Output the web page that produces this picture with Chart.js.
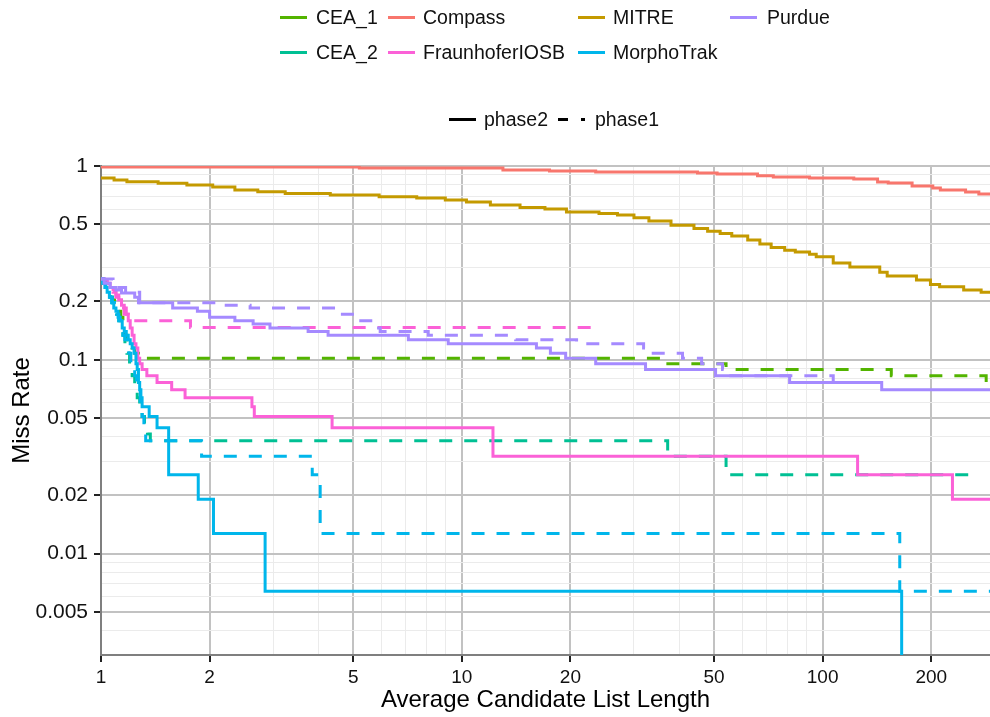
<!DOCTYPE html>
<html>
<head>
<meta charset="utf-8">
<script src="https://cdn.jsdelivr.net/npm/chart.js@4/dist/chart.umd.min.js"></script>
<style>
html,body{margin:0;padding:0;background:#fff;}
#wrap{position:relative;width:990px;height:717px;font-family:"Liberation Sans",Arial,sans-serif;overflow:hidden;}
#c{position:absolute;left:0;top:0;}
.sw{position:absolute;height:3px;width:27px;}
.lt{position:absolute;font-size:19.5px;line-height:22px;color:#111;white-space:nowrap;}
</style>
</head>
<body>
<div id="wrap">
<canvas id="c" width="990" height="717"></canvas>
</div>
<script>
// ---- tick values ----
const X_MAJOR = [1, 2, 5, 10, 20, 50, 100, 200];
const X_MINOR = [3, 4, 6, 7, 8, 9, 30, 40, 60, 70, 80, 90];
const Y_MAJOR = [0.005, 0.01, 0.02, 0.05, 0.1, 0.2, 0.5, 1];
const Y_MINOR = [0.003, 0.004, 0.006, 0.007, 0.008, 0.009, 0.03, 0.04, 0.06, 0.07, 0.08, 0.09, 0.3, 0.4, 0.6, 0.7, 0.8, 0.9];

// ---- series (x = list length where the step happens, y = miss rate after it) ----
const cea1P1X = [1, 1.015, 1.03, 1.045, 1.06, 1.075, 1.09, 1.105, 1.12, 1.135, 1.15, 1.165, 1.18, 1.2, 1.22, 1.24, 1.27, 35.5, 54, 155, 284, 300];
const cea1P1Y = [0.261, 0.248, 0.236, 0.223, 0.21, 0.204, 0.197, 0.185, 0.178, 0.166, 0.146, 0.134, 0.127, 0.121, 0.115, 0.108, 0.102, 0.0955, 0.0892, 0.0828, 0.0764, 0.0764];

const cea2P1X = [1, 1.015, 1.03, 1.045, 1.06, 1.075, 1.09, 1.105, 1.12, 1.135, 1.15, 1.165, 1.18, 1.2, 1.22, 1.24, 1.26, 1.28, 1.3, 1.32, 1.345, 1.37, 37.2, 54, 269];
const cea2P1Y = [0.261, 0.248, 0.236, 0.223, 0.21, 0.197, 0.185, 0.172, 0.159, 0.146, 0.134, 0.121, 0.108, 0.0955, 0.0828, 0.0701, 0.0637, 0.0573, 0.051, 0.0446, 0.0414, 0.0382, 0.0318, 0.0255, 0.0255];

const compassP2X = [1, 5.2, 13, 17.5, 23.5, 45, 51, 66, 73, 92, 122, 142, 152, 177, 202, 212, 249, 271, 300];
const compassP2Y = [0.988, 0.976, 0.953, 0.942, 0.931, 0.92, 0.909, 0.891, 0.877, 0.867, 0.857, 0.827, 0.817, 0.788, 0.769, 0.752, 0.734, 0.717, 0.708];

const fraunP2X = [1, 1.02, 1.04, 1.06, 1.08, 1.1, 1.12, 1.14, 1.16, 1.175, 1.19, 1.205, 1.22, 1.235, 1.25, 1.265, 1.28, 1.3, 1.34, 1.43, 1.57, 1.71, 2.62, 2.66, 4.37, 12.2, 125, 229, 300];
const fraunP2Y = [0.261, 0.255, 0.248, 0.236, 0.229, 0.216, 0.204, 0.191, 0.185, 0.172, 0.159, 0.146, 0.134, 0.121, 0.115, 0.102, 0.0955, 0.0892, 0.0828, 0.0764, 0.0701, 0.0637, 0.0573, 0.051, 0.0446, 0.0318, 0.0255, 0.0191, 0.0191];

const fraunP1X = [1, 1.02, 1.04, 1.06, 1.08, 1.1, 1.12, 1.14, 1.16, 1.19, 1.77, 23.2];
const fraunP1Y = [0.261, 0.255, 0.248, 0.236, 0.223, 0.21, 0.197, 0.185, 0.172, 0.159, 0.147, 0.147];

const mitreP2X = [1, 1.087, 1.18, 1.44, 1.73, 2.04, 2.35, 2.72, 3.24, 4.32, 5.9, 7.5, 9.0, 10.3, 12, 14.5, 17, 19.5, 24, 27, 30, 33, 38, 44, 48, 52, 56, 62, 67, 72, 78.5, 84, 92, 96, 107, 119, 144, 151, 182, 199, 211, 246, 275, 300];
const mitreP2Y = [0.867, 0.846, 0.83, 0.814, 0.798, 0.779, 0.752, 0.737, 0.722, 0.708, 0.695, 0.684, 0.668, 0.652, 0.629, 0.61, 0.6, 0.579, 0.568, 0.558, 0.54, 0.521, 0.495, 0.476, 0.461, 0.448, 0.435, 0.415, 0.396, 0.38, 0.368, 0.36, 0.351, 0.34, 0.316, 0.301, 0.283, 0.271, 0.258, 0.245, 0.238, 0.229, 0.223, 0.223];

const morphoP2X = [1, 1.01, 1.025, 1.04, 1.055, 1.07, 1.085, 1.1, 1.115, 1.13, 1.145, 1.16, 1.175, 1.19, 1.205, 1.22, 1.235, 1.25, 1.26, 1.27, 1.28, 1.29, 1.3, 1.36, 1.43, 1.54, 1.86, 2.05, 2.85, 165.6];
const morphoP2Y = [0.261, 0.248, 0.236, 0.223, 0.21, 0.197, 0.185, 0.178, 0.166, 0.159, 0.146, 0.14, 0.134, 0.127, 0.121, 0.115, 0.108, 0.0955, 0.0892, 0.0764, 0.0701, 0.0637, 0.0573, 0.051, 0.0446, 0.0255, 0.0191, 0.0127, 0.0064, 0.0005];

const morphoP1X = [1, 1.015, 1.03, 1.045, 1.06, 1.075, 1.09, 1.105, 1.12, 1.135, 1.15, 1.165, 1.18, 1.195, 1.21, 1.225, 1.24, 1.255, 1.27, 1.285, 1.3, 1.315, 1.33, 1.9, 3.85, 4.05, 163.6, 300];
const morphoP1Y = [0.261, 0.248, 0.236, 0.223, 0.21, 0.197, 0.185, 0.172, 0.159, 0.146, 0.134, 0.127, 0.115, 0.108, 0.0955, 0.0892, 0.0828, 0.0764, 0.0701, 0.0573, 0.051, 0.0446, 0.0382, 0.0318, 0.0255, 0.0127, 0.0064, 0.0064];

const purdueP2X = [1, 1.02, 1.06, 1.1, 1.14, 1.24, 1.27, 1.58, 1.85, 2.0, 2.35, 2.64, 2.94, 3.75, 4.26, 7.11, 9.17, 16.1, 17.6, 19.4, 23.5, 32.3, 50.5, 81.0, 145.8, 300];
const purdueP2Y = [0.261, 0.248, 0.236, 0.229, 0.221, 0.21, 0.197, 0.185, 0.178, 0.166, 0.159, 0.153, 0.146, 0.14, 0.134, 0.127, 0.121, 0.115, 0.108, 0.102, 0.0955, 0.0892, 0.0828, 0.0764, 0.0701, 0.0701];

const purdueP1X = [1, 1.08, 1.17, 1.28, 2.11, 2.59, 4.51, 5.07, 5.75, 5.94, 8.07, 14.1, 20.8, 31.9, 33.5, 40.9, 46.2, 52.8, 55, 107, 120];
const purdueP1Y = [0.261, 0.236, 0.223, 0.197, 0.191, 0.185, 0.172, 0.159, 0.146, 0.14, 0.134, 0.127, 0.121, 0.115, 0.108, 0.102, 0.0955, 0.0892, 0.0828, 0.0764, 0.0764];

const TEAMS = ["CEA_1", "CEA_2", "Compass", "FraunhoferIOSB", "MITRE", "MorphoTrak", "Purdue"];
const COLORS = {CEA_1:"#53B400", CEA_2:"#00C094", Compass:"#F8766D", FraunhoferIOSB:"#FB61D7", MITRE:"#C49A00", MorphoTrak:"#00B6EB", Purdue:"#A58AFF"};

// draw sequence (first = bottom)
const SERIES = [
  {team:"CEA_1", phase:"phase1", xs:cea1P1X, ys:cea1P1Y},
  {team:"CEA_2", phase:"phase1", xs:cea2P1X, ys:cea2P1Y},
  {team:"Compass", phase:"phase2", xs:compassP2X, ys:compassP2Y},
  {team:"FraunhoferIOSB", phase:"phase1", xs:fraunP1X, ys:fraunP1Y},
  {team:"FraunhoferIOSB", phase:"phase2", xs:fraunP2X, ys:fraunP2Y},
  {team:"MITRE", phase:"phase2", xs:mitreP2X, ys:mitreP2Y},
  {team:"MorphoTrak", phase:"phase1", xs:morphoP1X, ys:morphoP1Y},
  {team:"MorphoTrak", phase:"phase2", xs:morphoP2X, ys:morphoP2Y},
  {team:"Purdue", phase:"phase1", xs:purdueP1X, ys:purdueP1Y},
  {team:"Purdue", phase:"phase2", xs:purdueP2X, ys:purdueP2Y}
];

const DASH = [13, 12];

const datasets = SERIES.map((s, i) => ({
  label: s.team + " " + s.phase,
  data: s.xs.map((x, k) => ({x: x, y: s.ys[k]})),
  borderColor: COLORS[s.team],
  backgroundColor: COLORS[s.team],
  borderWidth: 3,
  borderDash: s.phase === "phase1" ? DASH : [],
  stepped: true,
  pointRadius: 0,
  fill: false,
  order: SERIES.length - i
}));

Chart.defaults.font.family = "'Liberation Sans', Arial, Helvetica, sans-serif";
Chart.defaults.color = "#111";

const isMaj = (arr, v) => arr.some(m => Math.abs(m - v) / m < 1e-9);

new Chart(document.getElementById("c"), {
  type: "line",
  data: {datasets: datasets},
  options: {
    responsive: false,
    animation: false,
    events: [],
    layout: {padding: {top: 166, left: 0, right: 0, bottom: 0}},
    plugins: {legend: {display: false}, tooltip: {enabled: false}},
    scales: {
      x: {
        type: "logarithmic",
        min: 1, max: 291,
        afterBuildTicks: s => { s.ticks = X_MAJOR.concat(X_MINOR).sort((a, b) => a - b).map(v => ({value: v})); },
        afterFit: s => { s.height = 62; },
        ticks: {
          autoSkip: false, maxRotation: 0, minRotation: 0,
          padding: 4,
          font: {size: 19},
          color: "#111",
          callback: v => isMaj(X_MAJOR, v) ? String(v) : ""
        },
        grid: {
          color: c => isMaj(X_MAJOR, c.tick.value) ? "#c2c2c2" : "#ebebeb",
          lineWidth: c => isMaj(X_MAJOR, c.tick.value) ? 2 : 1,
          tickColor: c => isMaj(X_MAJOR, c.tick.value) ? "#222" : "rgba(0,0,0,0)",
          tickLength: 7,
          tickWidth: 2
        },
        border: {display: true, color: "#7f7f7f", width: 2},
        title: {display: true, text: "Average Candidate List Length", font: {size: 24}, color: "#000", padding: {top: 0, bottom: 2}}
      },
      y: {
        type: "logarithmic",
        min: 0.003, max: 1,
        afterBuildTicks: s => { s.ticks = Y_MAJOR.concat(Y_MINOR).sort((a, b) => a - b).map(v => ({value: v})); },
        afterFit: s => { s.width = 101; },
        ticks: {
          autoSkip: false,
          padding: 6,
          font: {size: 21},
          color: "#111",
          callback: v => isMaj(Y_MAJOR, v) ? String(v) : ""
        },
        grid: {
          color: c => isMaj(Y_MAJOR, c.tick.value) ? "#c2c2c2" : "#ebebeb",
          lineWidth: c => isMaj(Y_MAJOR, c.tick.value) ? 2 : 1,
          tickColor: c => isMaj(Y_MAJOR, c.tick.value) ? "#222" : "rgba(0,0,0,0)",
          tickLength: 7,
          tickWidth: 2
        },
        border: {display: true, color: "#7f7f7f", width: 2},
        title: {display: true, text: "Miss Rate", font: {size: 24}, color: "#000", padding: {top: 8, bottom: 0}}
      }
    }
  }
});

// ---- HTML legend ----
const wrap = document.getElementById("wrap");
const LEG_COLS = [[ "CEA_1", "CEA_2"], ["Compass", "FraunhoferIOSB"], ["MITRE", "MorphoTrak"], ["Purdue"]];
const LEG_SW_X = [280, 388, 578, 730];
const LEG_TX_X = [316, 423, 613, 767];
const LEG_ROW_Y = [17, 52];
function addSwatch(x, y, w, color) {
  const d = document.createElement("div");
  d.className = "sw";
  d.style.left = x + "px"; d.style.top = (y - 1.5) + "px"; d.style.width = w + "px"; d.style.background = color;
  wrap.appendChild(d);
}
function addText(x, y, txt) {
  const t = document.createElement("div");
  t.className = "lt";
  t.style.left = x + "px"; t.style.top = (y - 11) + "px";
  t.textContent = txt;
  wrap.appendChild(t);
}
LEG_COLS.forEach((col, ci) => col.forEach((name, ri) => {
  addSwatch(LEG_SW_X[ci], LEG_ROW_Y[ri], 27, COLORS[name]);
  addText(LEG_TX_X[ci], LEG_ROW_Y[ri], name);
}));
// linetype legend
addSwatch(449, 119, 27, "#000");
addText(484, 119, "phase2");
addSwatch(558, 119, 10, "#000");
addSwatch(581, 119, 4, "#000");
addText(595, 119, "phase1");
</script>
</body>
</html>
